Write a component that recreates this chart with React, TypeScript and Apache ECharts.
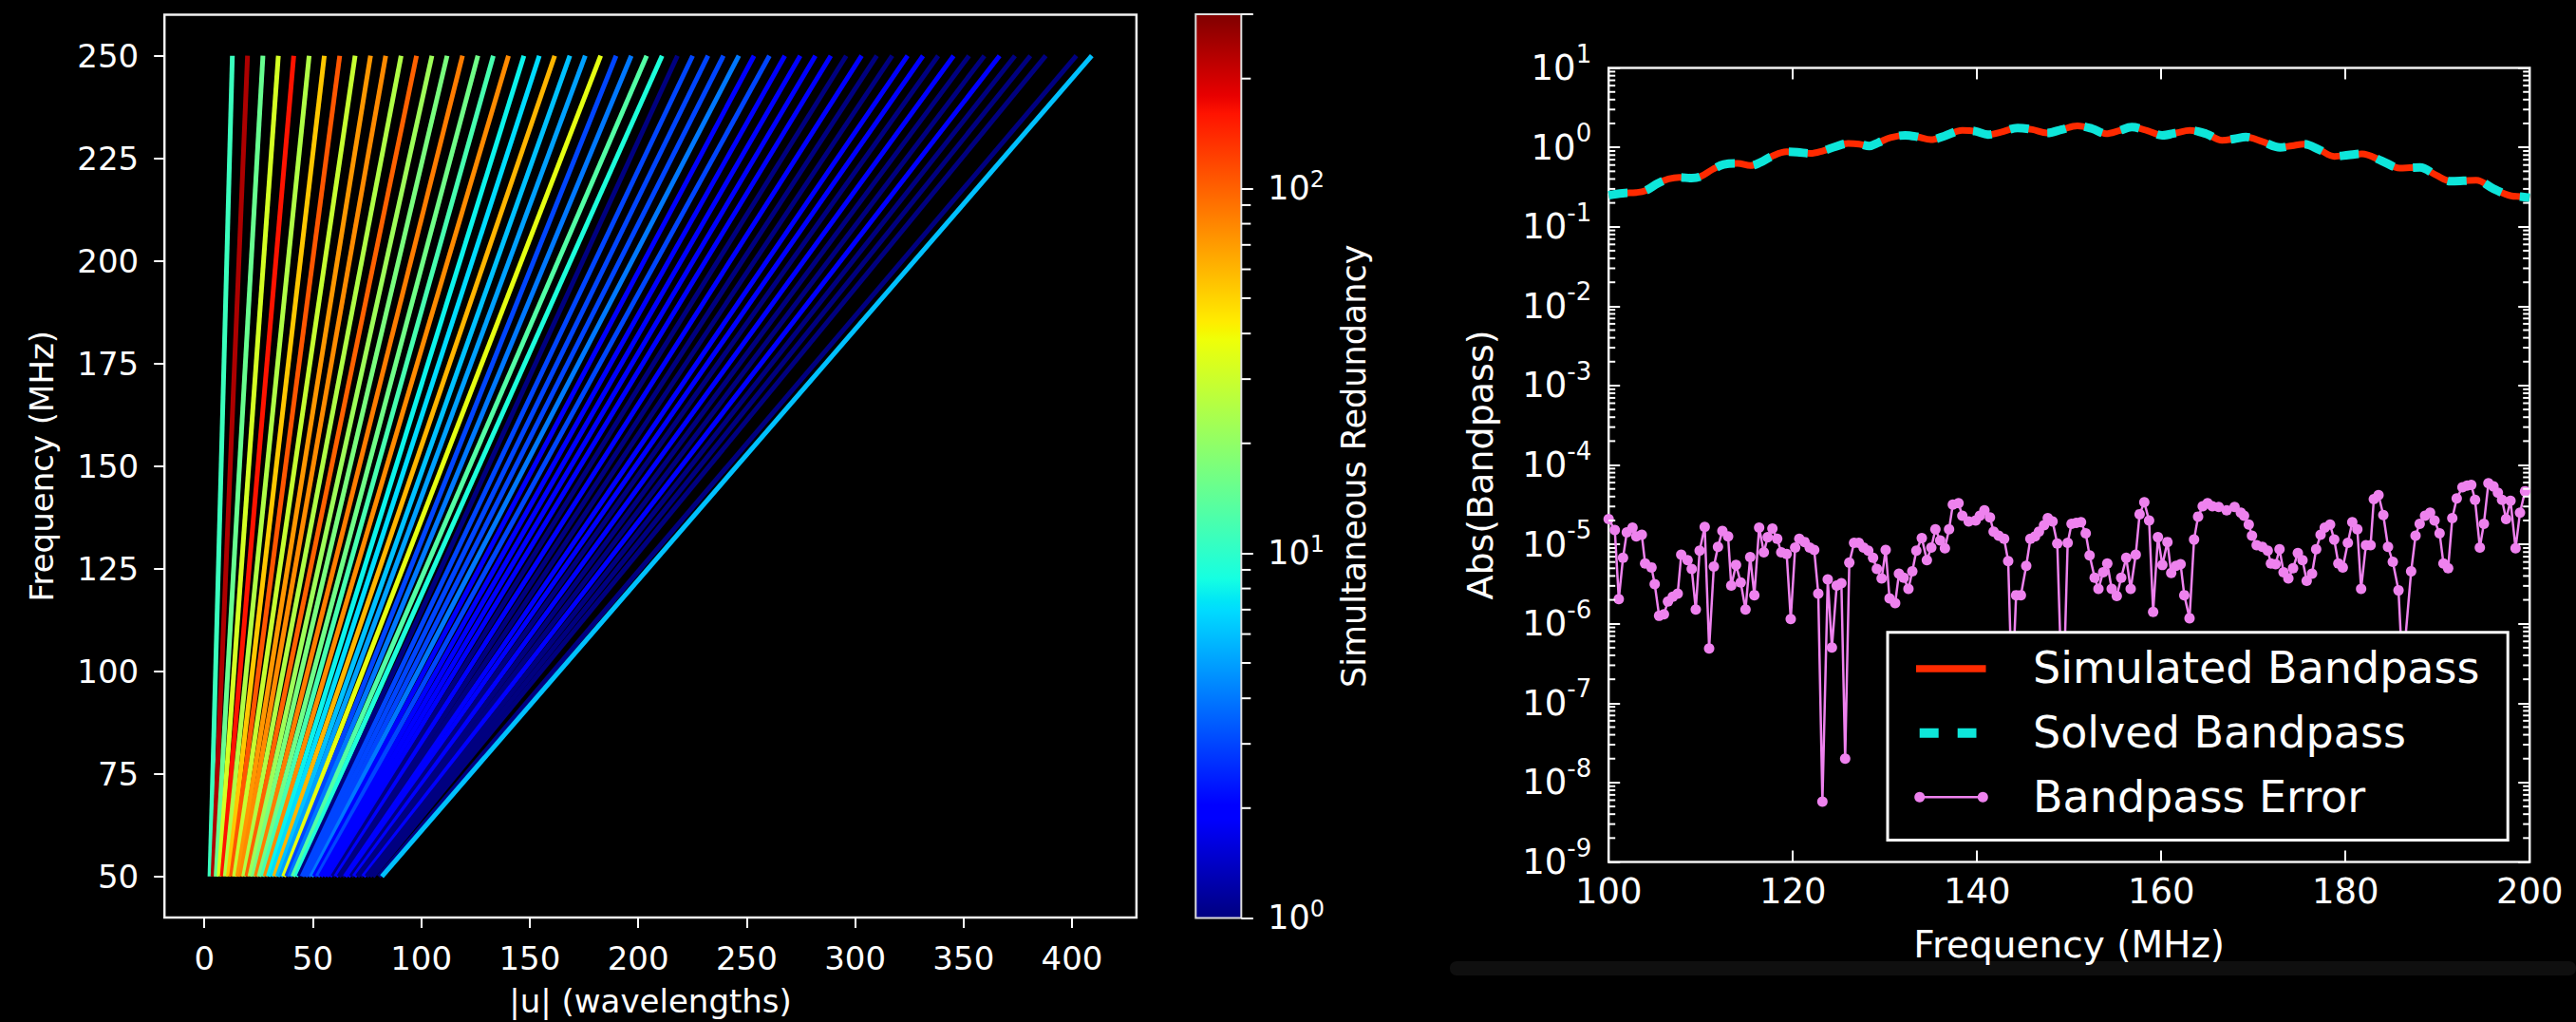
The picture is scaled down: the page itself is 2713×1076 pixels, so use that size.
import React, { useEffect, useRef } from "react";
import * as echarts from "echarts";

const FONT = "DejaVu Sans";

// ---------------- left panel: |u| tracks vs frequency ----------------
const F_START = 50;
const F_END = 250;
// |u| (wavelengths) of each track at the top frequency (250 MHz)
const U_AT_F_END = [
  12.9, 19.9, 27.0, 34.1, 41.2, 48.3, 55.3, 62.4, 69.5, 76.6, 83.6, 90.7, 97.8, 104.9, 111.9,
  119.0, 126.1, 133.2, 140.2, 147.3, 154.4, 161.5, 168.5, 175.6, 182.7, 189.8, 196.8, 203.9,
  211.0, 218.1, 225.1, 232.2, 239.3, 246.4, 253.4, 260.5, 267.6, 274.7, 281.7, 288.8, 295.9,
  303.0, 310.0, 317.1, 324.2, 331.3, 338.3, 345.4, 352.5, 359.6, 366.6, 373.7, 380.8, 387.9,
  402.0, 409.1,
];
// simultaneous redundancy of each track
const REDUNDANCY = [
  11, 240, 15, 32, 160, 25, 54, 107, 29, 72,
  78, 25, 100, 22, 17, 85, 16, 12, 78, 8,
  7, 60, 6, 5, 36, 3, 4, 13, 9, 1,
  3, 3, 3, 4, 2, 3, 2, 2, 2, 2,
  1, 2, 1, 1, 2, 2, 1, 2, 1, 1,
  2, 1, 1, 1, 1, 6,
];
const U_TICKS = [0, 50, 100, 150, 200, 250, 300, 350, 400];
const F_TICKS = [50, 75, 100, 125, 150, 175, 200, 225, 250];
const U_RANGE = [-18.4, 429.7];
const F_RANGE = [40, 260];
const CBAR_MAX = 300;
const MINOR_MULT = [2, 3, 4, 5, 6, 7, 8, 9];

// ---------------- right panel: bandpass ----------------
const BP_FREQ = [
  100.0, 101.5, 103.0, 104.0, 105.3, 106.5, 107.7, 109.0, 110.0, 111.3, 112.5, 114.0, 115.4,
  116.5, 117.7, 119.3, 120.5, 121.9, 123.2, 124.6, 126.0, 127.2, 128.3, 129.3, 130.6, 132.2,
  133.5, 135.0, 136.4, 138.4, 139.8, 141.2, 142.6, 144.4, 146.0, 147.6, 149.2, 150.9, 152.5,
  154.0, 155.4, 156.8, 158.5, 160.1, 161.6, 163.1, 164.9, 166.6, 167.9, 169.2, 171.0, 172.9,
  174.2, 175.5, 177.2, 178.8, 180.3, 181.8, 183.9, 185.9, 187.0, 188.1, 189.8, 191.4, 192.8,
  194.2, 196.1, 198.0, 199.0, 200.0,
];
const BP_AMP = [
  0.25, 0.265, 0.27, 0.285, 0.35, 0.4, 0.42, 0.41, 0.43, 0.53, 0.61, 0.63, 0.59,
  0.65, 0.77, 0.88, 0.87, 0.84, 0.9, 1.02, 1.12, 1.1, 1.04, 1.15, 1.33, 1.42,
  1.36, 1.25, 1.38, 1.64, 1.6, 1.45, 1.56, 1.76, 1.68, 1.52, 1.68, 1.87, 1.72,
  1.49, 1.62, 1.8, 1.62, 1.42, 1.52, 1.64, 1.48, 1.23, 1.28, 1.35, 1.18, 1.0,
  1.05, 1.1, 0.93, 0.77, 0.8, 0.83, 0.68, 0.55, 0.555, 0.56, 0.45, 0.376, 0.38,
  0.386, 0.3, 0.245, 0.24, 0.232,
];
const ERR_FREQ = [
  100.0, 100.67, 101.1, 101.56, 101.97, 102.59, 103.0, 103.6, 103.96, 104.65, 105.0, 105.48,
  106.0, 106.44, 106.96, 107.5, 107.88, 108.57, 109.02, 109.46, 109.88, 110.43, 110.91, 111.42,
  111.87, 112.35, 112.97, 113.31, 113.83, 114.34, 114.86, 115.37, 115.82, 116.34, 116.85,
  117.27, 117.78, 118.3, 118.74, 119.33, 119.77, 120.25, 120.7, 121.28, 121.83, 122.32, 122.76,
  123.21, 123.79, 124.24, 124.76, 125.27, 125.68, 126.13, 126.65, 127.16, 127.68, 128.19,
  128.71, 129.12, 129.64, 130.08, 130.5, 131.11, 131.52, 132.04, 132.55, 132.97, 133.41, 134.0,
  134.55, 135.03, 135.48, 136.0, 136.51, 136.96, 137.37, 137.99, 138.4, 139.09, 139.85, 140.3,
  140.8, 141.4, 141.8, 142.35, 142.94, 143.38, 143.8, 144.24, 144.76, 145.34, 145.79, 146.3,
  146.72, 147.27, 147.68, 148.2, 148.71, 149.3, 149.84, 150.26, 150.77, 151.29, 151.8, 152.22,
  152.77, 153.18, 153.69, 154.14, 154.62, 155.17, 155.65, 156.2, 156.68, 157.23, 157.65,
  158.16, 158.68, 159.12, 159.64, 160.12, 160.67, 161.08, 161.6, 162.1, 162.5, 163.07, 163.56,
  164.0, 164.5, 165.03, 165.55, 166.24, 167.1, 167.96, 168.64, 168.99, 169.5, 169.85, 170.36,
  170.98, 171.56, 171.91, 172.42, 172.84, 173.28, 173.8, 174.31, 174.83, 175.34, 175.79,
  176.37, 176.82, 177.3, 177.75, 178.33, 178.78, 179.23, 179.71, 180.26, 180.74, 181.29, 181.7,
  182.22, 182.73, 183.08, 183.59, 184.11, 184.62, 185.14, 185.76, 186.2, 187.13, 187.61,
  188.06, 188.64, 189.19, 189.67, 190.22, 190.64, 191.15, 191.6, 192.08, 192.7, 193.21, 193.66,
  194.07, 194.59, 195.03, 195.52, 196.07, 196.55, 197.0, 197.44, 197.92, 198.47, 198.95, 199.5,
];
const ERR_LOG10 = [
  -4.68, -4.82, -5.69, -5.17, -4.85, -4.79, -4.9, -4.88, -5.24, -5.29, -5.5, -5.9,
  -5.88, -5.72, -5.66, -5.62, -5.13, -5.2, -5.31, -5.82, -5.08, -4.78, -6.31, -5.28,
  -5.03, -4.83, -4.9, -5.52, -5.26, -5.48, -5.82, -5.16, -5.64, -4.79, -5.1,
  -4.91, -4.8, -4.93, -5.1, -5.12, -5.94, -5.04, -4.93, -4.97, -5.04, -5.07, -5.62,
  -8.24, -5.44, -6.3, -5.52, -5.49, -7.7, -5.23, -4.98, -4.98, -5.04, -5.08,
  -5.17, -5.31, -5.43, -5.07, -5.68, -5.74, -5.37, -5.42, -5.56, -5.34, -5.08, -4.92,
  -5.2, -5.04, -4.81, -4.95, -5.05, -4.81, -4.5, -4.48, -4.64, -4.71, -4.7, -4.64,
  -4.57, -4.66, -4.84, -4.89, -4.93, -5.21, -6.9, -5.64, -5.64, -5.27, -4.93, -4.9,
  -4.84, -4.76, -4.67, -4.71, -4.99, -7.2, -4.98, -4.74, -4.73, -4.72, -4.86, -5.14,
  -5.42, -5.56, -5.35, -5.24, -5.56, -5.65, -5.42, -5.17, -5.56, -5.13, -4.62,
  -4.47, -4.7, -5.85, -4.91, -5.26, -4.97, -5.36, -5.27, -5.25, -5.64, -5.93, -4.94,
  -4.65, -4.52, -4.48, -4.52, -4.53, -4.57, -4.53, -4.6, -4.64, -4.75, -4.89, -5.01,
  -5.03, -5.08, -5.24, -5.25, -5.06, -5.35, -5.43, -5.3, -5.11, -5.2, -5.46,
  -5.37, -5.06, -4.88, -4.79, -4.75, -4.94, -5.24, -5.29, -4.98, -4.72, -4.81, -5.56,
  -5.01, -5.01, -4.43, -4.38, -4.63, -5.03, -5.22, -5.58, -6.6, -5.34, -4.89,
  -4.74, -4.64, -4.6, -4.7, -4.86, -5.24, -5.3, -4.67, -4.42, -4.28, -4.26, -4.25,
  -4.44, -5.04, -4.74, -4.23, -4.27, -4.35, -4.44, -4.68, -4.45, -5.05, -4.6, -4.33,
];
const FREQ_RANGE = [100, 200];
const FREQ_STEP = 20;
const LOG_RANGE = [-9, 1];

const SIM_COLOR = "#ff2a00";
const SOLVED_COLOR = "#0ee6da";
const ERR_COLOR = "#ee82ee";
const FRAME = "#f2f2f2";

// matplotlib "jet" colormap
const JET: Record<string, number[][]> = {
  r: [[0, 0], [0.35, 0], [0.66, 1], [0.89, 1], [1, 0.5]],
  g: [[0, 0], [0.125, 0], [0.375, 1], [0.64, 1], [0.91, 0], [1, 0]],
  b: [[0, 0.5], [0.11, 1], [0.34, 1], [0.65, 0], [1, 0]],
};
const JET_STOPS = [0, 0.11, 0.125, 0.34, 0.35, 0.375, 0.64, 0.65, 0.66, 0.89, 0.91, 1];
function seg(pts: number[][], t: number) {
  if (t <= pts[0][0]) return pts[0][1];
  for (let i = 1; i < pts.length; i++) {
    if (t <= pts[i][0]) {
      const [x0, y0] = pts[i - 1];
      const [x1, y1] = pts[i];
      return y0 + ((y1 - y0) * (t - x0)) / (x1 - x0);
    }
  }
  return pts[pts.length - 1][1];
}
function jet(t: number) {
  const c = (v: number) => Math.round(Math.max(0, Math.min(1, v)) * 255);
  return `rgb(${c(seg(JET.r, t))},${c(seg(JET.g, t))},${c(seg(JET.b, t))})`;
}
const redundancyT = (r: number) =>
  Math.max(0, Math.min(1, Math.log10(r) / Math.log10(CBAR_MAX)));

const powLabel = (v: number) => {
  const r = Math.round(v);
  return Math.abs(v - r) < 1e-6 ? `{b|10}{s|${r}}` : "";
};

function buildOption() {
  const cbarMax = Math.log10(CBAR_MAX);
  const rightMinor: number[][] = [];
  for (let e = LOG_RANGE[0]; e < LOG_RANGE[1]; e++)
    for (const m of MINOR_MULT) rightMinor.push([FREQ_RANGE[0], e + Math.log10(m)]);
  const cbarMinor: number[][] = [];
  for (let e = 0; e < 3; e++)
    for (const m of MINOR_MULT) {
      const v = e + Math.log10(m);
      if (v < cbarMax) cbarMinor.push([1, v]);
    }

  const trackSeries = U_AT_F_END.map((u, i) => ({
    type: "line",
    xAxisIndex: 0,
    yAxisIndex: 0,
    symbol: "none",
    silent: true,
    data: [
      [(u * F_START) / F_END, F_START],
      [u, F_END],
    ],
    lineStyle: { color: jet(redundancyT(REDUNDANCY[i])), width: 5, cap: "butt" },
    z: 2,
  }));

  const bp = BP_FREQ.map((f, i) => [f, Math.log10(BP_AMP[i])]);
  const err = ERR_FREQ.map((f, i) => [f, ERR_LOG10[i]]);

  const white = "#ffffff";
  const txt = (size: number) => ({ color: white, fontSize: size, fontFamily: FONT });
  const noLine = { show: false, onZero: false };

  return {
    animation: false,
    backgroundColor: "#000",
    grid: [
      {
        left: 173.2, top: 15.5, width: 1023.7, height: 950.8,
        show: true, borderColor: FRAME, borderWidth: 2.5, backgroundColor: "#000",
      },
      {
        left: 1694.2, top: 71.6, width: 970, height: 835.9,
        show: true, borderColor: FRAME, borderWidth: 2.5, backgroundColor: "#000",
      },
      {
        left: 1259.3, top: 15.1, width: 48, height: 951.3,
        show: true, borderColor: "#dddddd", borderWidth: 2,
        backgroundColor: {
          type: "linear", x: 0, y: 1, x2: 0, y2: 0,
          colorStops: JET_STOPS.map((s) => ({ offset: s, color: jet(s) })),
        },
      },
    ],
    xAxis: [
      {
        gridIndex: 0, type: "value", min: U_RANGE[0], max: U_RANGE[1],
        axisLine: noLine, splitLine: { show: false },
        axisTick: { show: true, customValues: U_TICKS, length: 11, lineStyle: { color: white, width: 2 } },
        axisLabel: { customValues: U_TICKS, margin: 26, ...txt(34) },
        name: "|u| (wavelengths)", nameLocation: "middle", nameGap: 71,
        nameTextStyle: txt(34),
      },
      {
        gridIndex: 1, type: "value", position: "bottom", min: FREQ_RANGE[0], max: FREQ_RANGE[1],
        interval: FREQ_STEP,
        axisLine: noLine, splitLine: { show: false },
        axisTick: { show: true, inside: true, length: 12, lineStyle: { color: white, width: 2 } },
        axisLabel: { margin: 12, ...txt(37) },
        name: "Frequency (MHz)", nameLocation: "middle", nameGap: 67,
        nameTextStyle: txt(39),
      },
      {
        gridIndex: 1, type: "value", position: "top", min: FREQ_RANGE[0], max: FREQ_RANGE[1],
        interval: FREQ_STEP,
        axisLine: noLine, splitLine: { show: false },
        axisTick: { show: true, inside: true, length: 12, lineStyle: { color: white, width: 2 } },
        axisLabel: { show: false },
      },
      { gridIndex: 2, type: "value", min: 0, max: 1, show: false, axisLine: noLine },
    ],
    yAxis: [
      {
        gridIndex: 0, type: "value", position: "left", min: F_RANGE[0], max: F_RANGE[1],
        axisLine: noLine, splitLine: { show: false },
        axisTick: { show: true, customValues: F_TICKS, length: 11, lineStyle: { color: white, width: 2 } },
        axisLabel: { customValues: F_TICKS, margin: 27, ...txt(34) },
        name: "Frequency (MHz)", nameLocation: "middle", nameGap: 112,
        nameTextStyle: txt(34),
      },
      {
        gridIndex: 1, type: "value", position: "left", min: LOG_RANGE[0], max: LOG_RANGE[1],
        interval: 1,
        axisLine: noLine, splitLine: { show: false },
        axisTick: { show: true, inside: true, length: 12, lineStyle: { color: white, width: 2 } },
        axisLabel: {
          margin: 18, formatter: powLabel,
          rich: {
            b: { ...txt(37), lineHeight: 56 },
            s: { ...txt(26), lineHeight: 26, verticalAlign: "top" },
          },
        },
        name: "Abs(Bandpass)", nameLocation: "middle", nameGap: 116,
        nameTextStyle: txt(38),
      },
      {
        gridIndex: 1, type: "value", position: "right", min: LOG_RANGE[0], max: LOG_RANGE[1],
        interval: 1,
        axisLine: noLine, splitLine: { show: false },
        axisTick: { show: true, inside: true, length: 12, lineStyle: { color: white, width: 2 } },
        axisLabel: { show: false },
      },
      {
        gridIndex: 2, type: "value", position: "right", min: 0, max: cbarMax, interval: 1,
        axisLine: noLine, splitLine: { show: false },
        axisTick: { show: true, length: 12.5, lineStyle: { color: white, width: 2 } },
        axisLabel: {
          margin: 28, formatter: powLabel,
          rich: {
            b: { ...txt(35), lineHeight: 42 },
            s: { ...txt(24), lineHeight: 24, verticalAlign: "top" },
          },
        },
      },
    ],
    series: [
      ...trackSeries,
      {
        type: "line", name: "Simulated Bandpass", xAxisIndex: 1, yAxisIndex: 1,
        data: bp, symbol: "none", smooth: 0.35, silent: true,
        lineStyle: { color: SIM_COLOR, width: 7 }, itemStyle: { color: SIM_COLOR }, z: 3,
      },
      {
        type: "line", name: "Solved Bandpass", xAxisIndex: 1, yAxisIndex: 1,
        data: bp, symbol: "none", smooth: 0.35, silent: true,
        lineStyle: { color: SOLVED_COLOR, width: 9, type: [20, 20], cap: "butt" },
        itemStyle: { color: SOLVED_COLOR }, z: 4,
      },
      {
        type: "line", name: "Bandpass Error", xAxisIndex: 1, yAxisIndex: 1,
        data: err, symbol: "circle", symbolSize: 11, showAllSymbol: true, silent: true,
        lineStyle: { color: ERR_COLOR, width: 2.5 }, itemStyle: { color: ERR_COLOR }, z: 5,
      },
      {
        type: "custom", xAxisIndex: 1, yAxisIndex: 1, silent: true, z: 6,
        data: rightMinor,
        renderItem: (_p: any, api: any) => {
          const v = api.value(1);
          const a = api.coord([FREQ_RANGE[0], v]);
          const b = api.coord([FREQ_RANGE[1], v]);
          return {
            type: "group",
            children: [
              { type: "line", shape: { x1: a[0], y1: a[1], x2: a[0] + 7, y2: a[1] }, style: { stroke: white, lineWidth: 2 } },
              { type: "line", shape: { x1: b[0], y1: b[1], x2: b[0] - 7, y2: b[1] }, style: { stroke: white, lineWidth: 2 } },
            ],
          };
        },
      },
      {
        type: "custom", xAxisIndex: 3, yAxisIndex: 3, silent: true, z: 6,
        data: cbarMinor,
        renderItem: (_p: any, api: any) => {
          const a = api.coord([1, api.value(1)]);
          return {
            type: "line",
            shape: { x1: a[0], y1: a[1], x2: a[0] + 10, y2: a[1] },
            style: { stroke: white, lineWidth: 2 },
          };
        },
      },
    ],
    graphic: [
      {
        type: "text", x: 1425.5, y: 490.8, rotation: Math.PI / 2, z: 50,
        style: {
          text: "Simultaneous Redundancy", fill: white, fontSize: 35, fontFamily: FONT,
          align: "center", verticalAlign: "middle",
        },
      },
      {
        type: "rect", z: 1, shape: { x: 1527, y: 1012, width: 1186, height: 15, r: 7 },
        style: { fill: "rgba(255,255,255,0.06)" },
      },
      {
        type: "rect", z: 100, shape: { x: 1988, y: 665.8, width: 653.2, height: 218.8 },
        style: { fill: "#000", stroke: white, lineWidth: 3 },
      },
      {
        type: "line", z: 101, shape: { x1: 2018, y1: 704, x2: 2091.5, y2: 704 },
        style: { stroke: SIM_COLOR, lineWidth: 7.7 },
      },
      {
        type: "line", z: 101, shape: { x1: 2021.7, y1: 771.7, x2: 2081.5, y2: 771.7 },
        style: { stroke: SOLVED_COLOR, lineWidth: 10, lineDash: [20, 20] },
      },
      {
        type: "line", z: 101, shape: { x1: 2021.7, y1: 839.3, x2: 2088.3, y2: 839.3 },
        style: { stroke: ERR_COLOR, lineWidth: 2.5 },
      },
      { type: "circle", z: 102, shape: { cx: 2021.7, cy: 839.3, r: 5.5 }, style: { fill: ERR_COLOR } },
      { type: "circle", z: 102, shape: { cx: 2088.3, cy: 839.3, r: 5.5 }, style: { fill: ERR_COLOR } },
      ...[
        ["Simulated Bandpass", 703],
        ["Solved Bandpass", 771],
        ["Bandpass Error", 839],
      ].map(([t, y]) => ({
        type: "text", z: 102, x: 2141, y: y as number,
        style: { text: t as string, fill: white, fontSize: 46, fontFamily: FONT, verticalAlign: "middle", align: "left" },
      })),
    ],
  };
}

export default function App() {
  const ref = useRef<HTMLDivElement>(null);
  useEffect(() => {
    document.body.style.margin = "0";
    document.body.style.background = "#000";
    const chart = echarts.init(ref.current as HTMLDivElement, null, { renderer: "svg" });
    chart.setOption(buildOption() as any);
    return () => chart.dispose();
  }, []);
  return (
    <div
      ref={ref}
      style={{ position: "absolute", left: 0, top: 0, width: 2713, height: 1076, background: "#000" }}
    />
  );
}
